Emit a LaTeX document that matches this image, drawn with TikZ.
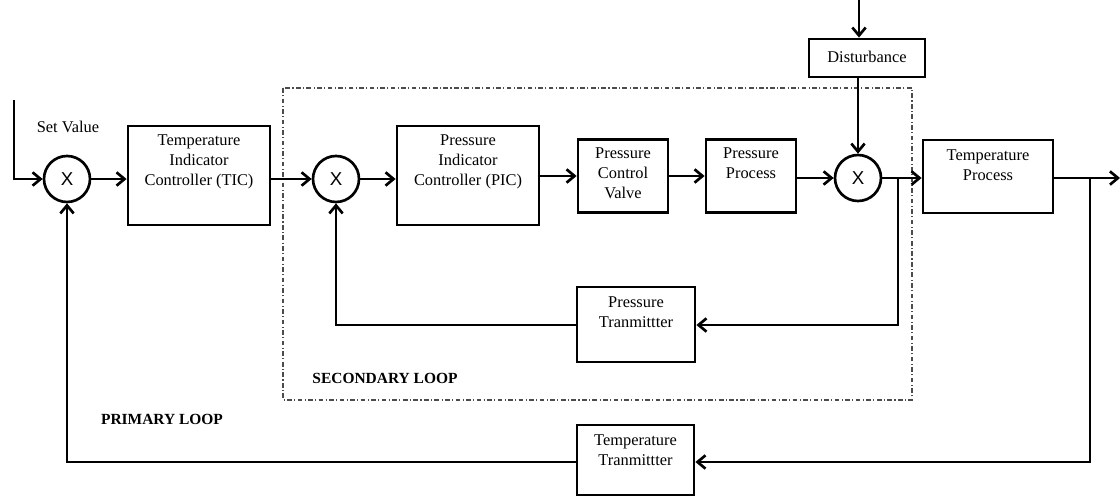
\documentclass[tikz,border=0pt]{standalone}
\usepackage{fontspec}
\setmainfont{Liberation Serif}
\setsansfont{Liberation Sans}
\usetikzlibrary{arrows.meta}
\begin{document}
\begin{tikzpicture}[x=0.75pt,y=-0.75pt,
  blk/.style={draw=black,line width=2.1pt,fill=white,inner sep=0pt},
  sumc/.style={draw=black,circle,line width=2pt,minimum size=34.5pt,inner sep=0pt,font=\sffamily\fontsize{14}{14}\selectfont},
  txt/.style={align=center,font=\fontsize{12.3}{15}\selectfont,inner sep=0pt},
  arr/.style={line width=2.1pt,-{Straight Barb[length=6pt,width=10pt,line width=2pt]}},
  loopbox/.style={draw=black!70,line width=0.8pt,dash pattern=on 3.5pt off 1.8pt on 0.8pt off 1.8pt},
  looplbl/.style={font=\bfseries\fontsize{11.6}{13}\selectfont,inner sep=0pt}]
\useasboundingbox (0,0) rectangle (1120,496);
\fill[white] (0,0) rectangle (1120,496);

% secondary loop frame
\draw[loopbox] (283,88) rectangle (912,400);

% blocks
\node[sumc] (c1) at (67,179) {X};
\node[blk,minimum width=106.5pt,minimum height=74.25pt] (tic) at (199,175.5) {};
\node[txt,anchor=north] (tict) at (199,134) {Temperature\\Indicator\\Controller (TIC)};
\node[sumc] (c2) at (336,179) {X};
\node[blk,minimum width=106.5pt,minimum height=74.25pt] (pic) at (468,175.5) {};
\node[txt,anchor=north] (pict) at (468,134) {Pressure\\Indicator\\Controller (PIC)};
\node[blk,minimum width=67.5pt,minimum height=54.75pt] (pcv) at (623,176) {};
\node[txt,anchor=north] (pcvt) at (623,147) {Pressure\\Control\\Valve};
\node[blk,minimum width=67.5pt,minimum height=54.75pt] (pp) at (751,176) {};
\node[txt,anchor=north] (ppt) at (751,147) {Pressure\\Process};
\node[sumc] (c3) at (858,178) {X};
\node[blk,minimum width=87pt,minimum height=28.5pt] (dist) at (867,58) {};
\node[txt] (distt) at (867,57) {Disturbance};
\node[blk,minimum width=97.5pt,minimum height=54.75pt] (tp) at (988,176.5) {};
\node[txt,anchor=north] (tpt) at (988,149) {Temperature\\Process};
\node[blk,minimum width=88.5pt,minimum height=56.25pt] (pt) at (636,324.5) {};
\node[txt,anchor=north] (ptt) at (636,296) {Pressure\\Tranmittter};
\node[blk,minimum width=87.75pt,minimum height=52.5pt] (tt) at (635.5,460) {};
\node[txt,anchor=north] (ttt) at (635.5,434) {Temperature\\Tranmittter};

% labels
\node[txt] (sv) at (68,127) {Set Value};
\node[looplbl] (sl) at (385,378) {SECONDARY LOOP};
\node[looplbl] (pl) at (162,419) {PRIMARY LOOP};

% coordinates
\coordinate (svtop) at (14,100);
\coordinate (svcorner) at (14,179);
\coordinate (dtop) at (859,0);
\coordinate (out) at (1120,178);
\coordinate (b1) at (898,178);
\coordinate (b1d) at (898,325);
\coordinate (b2) at (1090,178);
\coordinate (b2d) at (1090,462);
\coordinate (f1) at (336,325);
\coordinate (f2) at (67,462);

% forward path
\draw[arr] (svtop) -- (svcorner) -- (c1.west);
\draw[arr] (c1.east) -- (tic.west |- c1.east);
\draw[arr] (tic.east |- c2.west) -- (c2.west);
\draw[arr] (c2.east) -- (pic.west |- c2.east);
\draw[arr] (pic.east |- pcv.west) -- (pcv.west);
\draw[arr] (pcv.east) -- (pp.west);
\draw[arr] (pp.east |- c3.west) -- (c3.west);
\draw[arr] (c3.east) -- (tp.west |- c3.east);
\draw[arr] (tp.east |- out) -- (out);
\draw[arr] (dtop) -- (dist.north -| dtop);
\draw[arr] (dist.south -| c3.north) -- (c3.north);

% secondary feedback
\draw[arr] (b1) -- (b1d) -- (pt.east |- b1d);
\draw[arr] (pt.west |- f1) -- (f1) -- (c2.south);

% primary feedback
\draw[arr] (b2) -- (b2d) -- (tt.east |- b2d);
\draw[arr] (tt.west |- f2) -- (f2) -- (c1.south);
\end{tikzpicture}
\end{document}
